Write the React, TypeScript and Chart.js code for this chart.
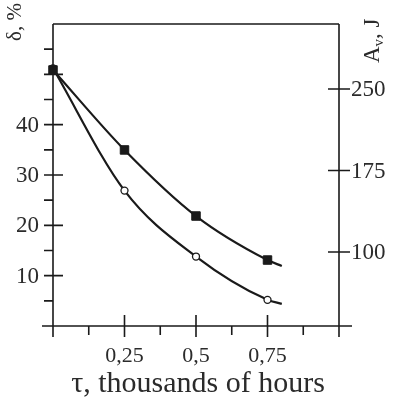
import React, { useEffect, useRef } from "react";
import { Chart, registerables } from "chart.js";

Chart.register(...registerables);

const tau = [0, 0.25, 0.5, 0.75, 0.8];
const deltaValues = [51.2, 26.9, 13.8, 5.2, 4.4];
const energyValues = [267.5, 193.9, 133.1, 92.6, 87.1];
const markerShown = [true, true, true, true, false];
const xMajorTicks = [0.25, 0.5, 0.75];
const xMajorLabels = ["0,25", "0,5", "0,75"];
const xMinorTicks = [0.125, 0.375, 0.625, 0.875];
const leftMajorTicks = [10, 20, 30, 40, 50];
const leftLabels = ["10", "20", "30", "40", ""];
const leftMinorTicks = [5, 15, 25, 35, 45, 55];
const rightTicks = [100, 175, 250];
const rightLabels = ["100", "175", "250"];

const INK = "#1a1a1a";
const TEXT = "#2b2b2b";
const FONT = "'Liberation Serif', 'DejaVu Serif', serif";

const axesPlugin = {
  id: "customAxes",
  afterDraw(chart: any) {
    const { ctx, chartArea } = chart;
    const xs = chart.scales.x;
    const yl = chart.scales.y;
    const yr = chart.scales.y2;
    const L = chartArea.left;
    const R = chartArea.right;
    const T = chartArea.top;
    const B = chartArea.bottom;
    ctx.save();
    ctx.strokeStyle = INK;
    ctx.lineWidth = 1.6;
    ctx.beginPath();
    ctx.moveTo(L, T);
    ctx.lineTo(R, T);
    ctx.moveTo(L, T);
    ctx.lineTo(L, B + 11);
    ctx.moveTo(R, T);
    ctx.lineTo(R, B + 11);
    ctx.moveTo(L - 11, B);
    ctx.lineTo(R + 13, B);
    xMajorTicks.forEach((v) => {
      const px = xs.getPixelForValue(v);
      ctx.moveTo(px, B - 11);
      ctx.lineTo(px, B + 11);
    });
    xMinorTicks.forEach((v) => {
      const px = xs.getPixelForValue(v);
      ctx.moveTo(px, B);
      ctx.lineTo(px, B + 9);
    });
    leftMajorTicks.forEach((v) => {
      const py = yl.getPixelForValue(v);
      ctx.moveTo(L - 9, py);
      ctx.lineTo(L + 10, py);
    });
    leftMinorTicks.forEach((v) => {
      const py = yl.getPixelForValue(v);
      ctx.moveTo(L - 9, py);
      ctx.lineTo(L, py);
    });
    rightTicks.forEach((v) => {
      const py = yr.getPixelForValue(v);
      ctx.moveTo(R - 11, py);
      ctx.lineTo(R + 11, py);
    });
    ctx.stroke();

    ctx.fillStyle = TEXT;
    ctx.font = `23px ${FONT}`;
    ctx.textBaseline = "middle";
    ctx.textAlign = "right";
    leftMajorTicks.forEach((v, i) => {
      if (!leftLabels[i]) return;
      ctx.fillText(leftLabels[i], L - 14, yl.getPixelForValue(v) + 1);
    });
    ctx.textAlign = "left";
    rightTicks.forEach((v, i) => {
      ctx.fillText(rightLabels[i], R + 12, yr.getPixelForValue(v) + 1);
    });
    ctx.font = `22px ${FONT}`;
    ctx.textAlign = "center";
    xMajorTicks.forEach((v, i) => {
      ctx.fillText(xMajorLabels[i], xs.getPixelForValue(v), B + 30);
    });

    ctx.font = `30px ${FONT}`;
    ctx.fillText("τ, thousands of hours", (L + R) / 2 + 2, 384);

    ctx.save();
    ctx.translate(15, 22);
    ctx.rotate(-Math.PI / 2);
    ctx.font = `21px ${FONT}`;
    ctx.textAlign = "center";
    ctx.fillText("δ, %", 0, 0);
    ctx.restore();

    ctx.save();
    ctx.translate(373, 63);
    ctx.rotate(-Math.PI / 2);
    ctx.textAlign = "left";
    ctx.font = `23px ${FONT}`;
    let x = 0;
    ctx.fillText("A", x, 0);
    x += ctx.measureText("A").width;
    ctx.font = `15px ${FONT}`;
    ctx.fillText("v", x, 6);
    x += ctx.measureText("v").width;
    ctx.font = `23px ${FONT}`;
    ctx.fillText(", J", x, 0);
    ctx.restore();

    ctx.restore();
  },
};

export default function App() {
  const ref = useRef<HTMLCanvasElement>(null);
  useEffect(() => {
    if (!ref.current) return;
    const chart = new Chart(ref.current, {
      type: "line",
      data: {
        datasets: [
          {
            label: "A_v",
            data: tau.map((t, i) => ({ x: t, y: energyValues[i] })),
            yAxisID: "y2",
            borderColor: INK,
            borderWidth: 2.2,
            backgroundColor: INK,
            pointStyle: "rect",
            pointRadius: markerShown.map((m) => (m ? 6 : 0)),
            pointBorderWidth: 1,
            pointBorderColor: INK,
            pointBackgroundColor: INK,
            cubicInterpolationMode: "monotone",
            clip: false,
          },
          {
            label: "δ",
            data: tau.map((t, i) => ({ x: t, y: deltaValues[i] })),
            yAxisID: "y",
            borderColor: INK,
            borderWidth: 2.2,
            backgroundColor: "#fff",
            pointStyle: "circle",
            pointRadius: markerShown.map((m) => (m ? 3.5 : 0)),
            pointBorderWidth: 1.3,
            pointBorderColor: INK,
            pointBackgroundColor: "#fff",
            cubicInterpolationMode: "monotone",
            clip: false,
          },
        ],
      },
      options: {
        animation: false,
        responsive: false,
        devicePixelRatio: 1,
        layout: { padding: { left: 53, top: 24, right: 54, bottom: 74 } },
        plugins: { legend: { display: false }, tooltip: { enabled: false } },
        scales: {
          x: { type: "linear", min: 0, max: 1, display: false },
          y: { type: "linear", min: 0, max: 60, display: false },
          y2: { type: "linear", min: 31.9, max: 309.8, display: false, position: "right" },
        },
      },
      plugins: [axesPlugin],
    } as any);
    return () => chart.destroy();
  }, []);
  return (
    <div style={{ position: "absolute", left: 0, top: 0, width: 393, height: 400, background: "#fff" }}>
      <canvas ref={ref} width={393} height={400} />
    </div>
  );
}
